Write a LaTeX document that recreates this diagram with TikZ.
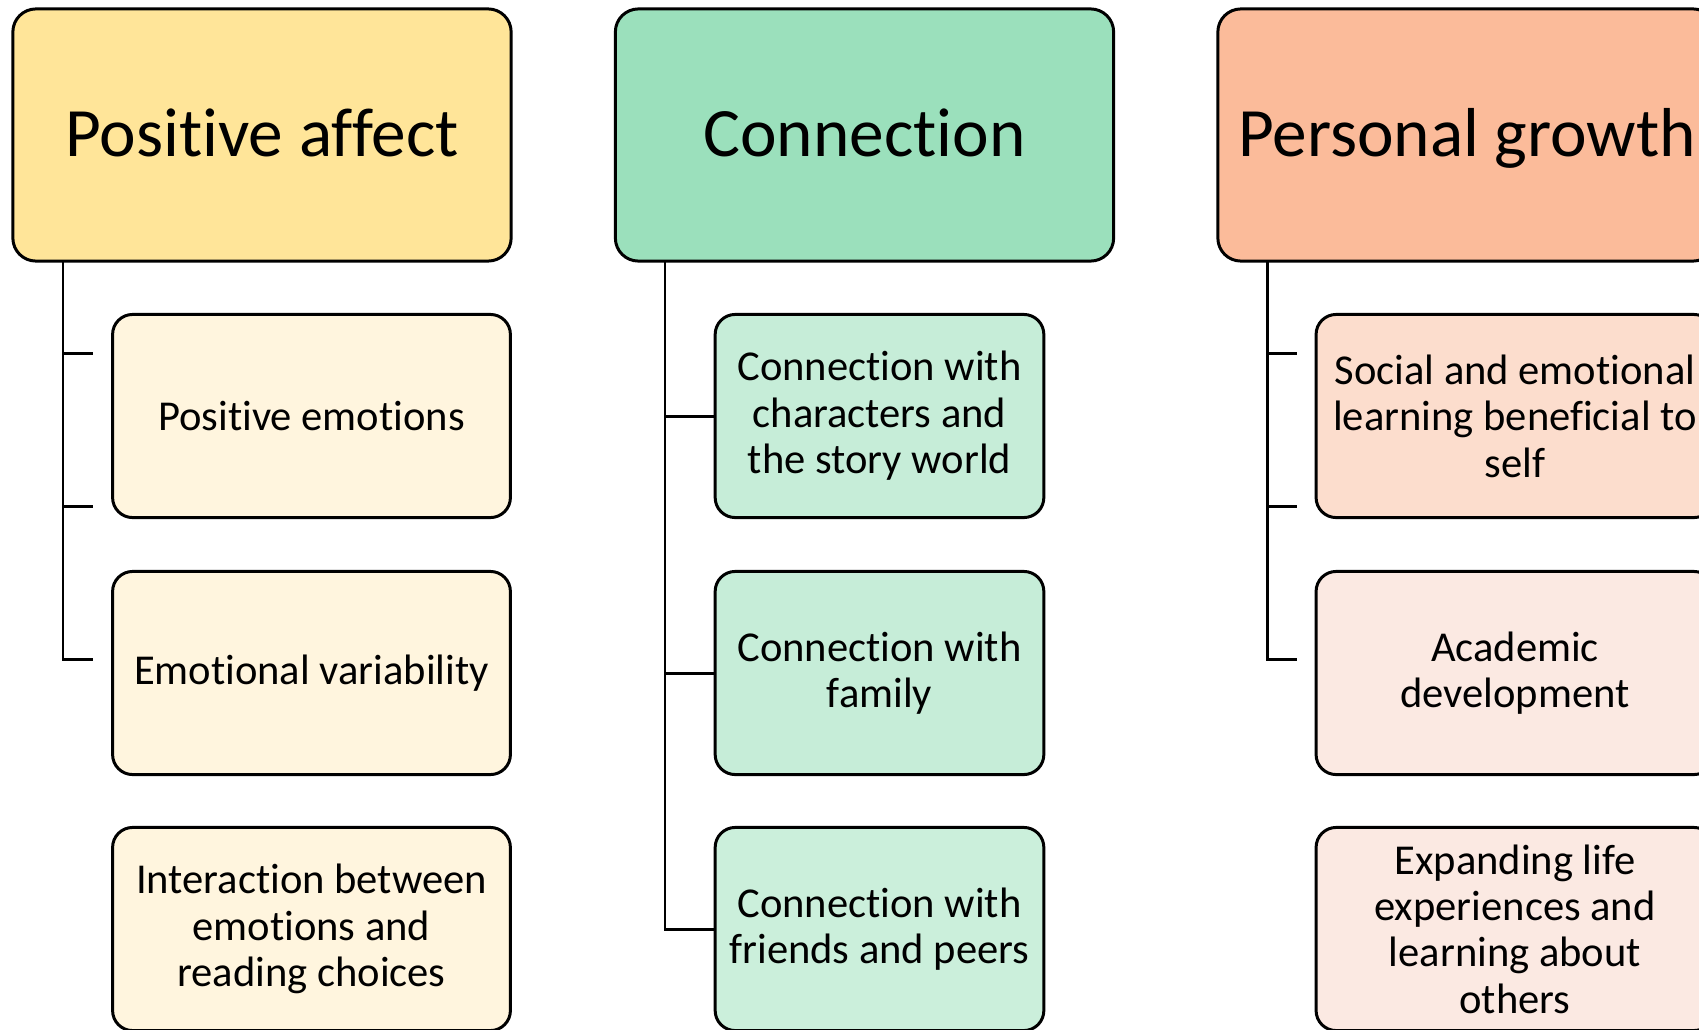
\documentclass[tikz,border=0pt]{standalone}
\usepackage{fontspec}
\setmainfont{Carlito}[Ligatures=NoCommon]

\definecolor{affecthead}{HTML}{FFE599}
\definecolor{affectsub}{HTML}{FFF5DE}
\definecolor{connhead}{HTML}{9BE0BC}
\definecolor{connsub}{HTML}{C6EDD8}
\definecolor{connsublight}{HTML}{CBEFDB}
\definecolor{growhead}{HTML}{FBBB9A}
\definecolor{growsub}{HTML}{FCDDCD}
\definecolor{growsublight}{HTML}{FBE9E2}

\tikzset{
	headbox/.style={draw, line width=0.85pt, rounded corners=0.23cm, inner sep=0pt,
		minimum width=4.98cm, minimum height=2.52cm,
		text height=13.6pt, text depth=1.5pt,
		font=\fontsize{19.7}{23}\selectfont},
	subbox/.style={draw, line width=0.85pt, rounded corners=0.2cm, inner sep=0pt,
		minimum height=2.03cm, align=center,
		font=\fontsize{12.1}{13.2}\selectfont},
	widesub/.style={subbox, minimum width=3.976cm},
	narrowsub/.style={subbox, minimum width=3.285cm},
	trunk/.style={line width=0.85pt},
}

\begin{document}
\begin{tikzpicture}[x=0.01cm, y=-0.01cm]
		%%%%% START %%%%%
		
		\useasboundingbox (0,0) rectangle (1699,1030);
		\clip (0,0) rectangle (1699,1030);
		
		% first column
		\node[headbox, fill=affecthead] (affect) at (262,135) {Positive affect};
		\node[widesub, fill=affectsub] (emotions) at (311.5,416) {Positive emotions};
		\node[widesub, fill=affectsub] (variability) at (311.5,673) {Emotional variability};
		\node[widesub, fill=affectsub] (choices) at (311.5,929) {Interaction between\\emotions and\\reading choices};
		
		% second column
		\node[headbox, fill=connhead] (connection) at (864.5,135) {Connection};
		\node[narrowsub, fill=connsub] (characters) at (879.5,416) {Connection with\\characters and\\the story world};
		\node[narrowsub, fill=connsub] (family) at (879.5,673) {Connection with\\family};
		\node[narrowsub, fill=connsublight] (friends) at (879.5,929) {Connection with\\friends and peers};
		
		% third column, runs off the right edge
		\node[headbox, fill=growhead] (growth) at (1467,135) {Personal growth};
		\node[widesub, fill=growsub] (social) at (1515,416) {Social and emotional\\learning beneficial to\\self};
		\node[widesub, fill=growsublight] (academic) at (1515,673) {Academic\\development};
		\node[widesub, fill=growsublight] (expanding) at (1515,929) {Expanding life\\experiences and\\learning about\\others};
		
		% spines and ticks
		\coordinate (affectspine) at (63,261);
		\coordinate (connspine) at (665,261);
		\coordinate (growspine) at (1267,261);
		\foreach \y [count=\i] in {353,506,659} {
			\coordinate (affecttick\i) at (93,\y);
			\coordinate (growtick\i) at (1297,\y);
		}
		
		\draw[trunk] (affectspine) |- (affecttick3);
		\draw[trunk] (affectspine |- affecttick1) -- (affecttick1);
		\draw[trunk] (affectspine |- affecttick2) -- (affecttick2);
		
		\draw[trunk] (connspine) |- (friends.west);
		\draw[trunk] (connspine |- characters.west) -- (characters.west);
		\draw[trunk] (connspine |- family.west) -- (family.west);
		
		\draw[trunk] (growspine) |- (growtick3);
		\draw[trunk] (growspine |- growtick1) -- (growtick1);
		\draw[trunk] (growspine |- growtick2) -- (growtick2);
		
		%%%%% END %%%%%
	\end{tikzpicture}
\end{document}
